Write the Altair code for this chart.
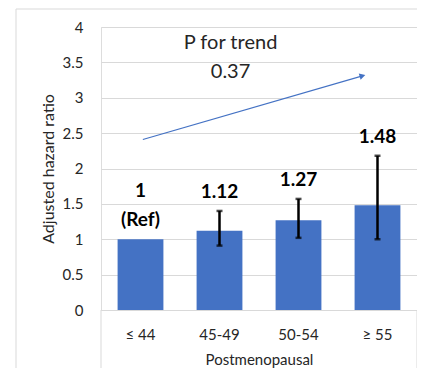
import altair as alt
import pandas as pd

categories = ["≤ 44", "45-49", "50-54", "≥ 55"]
hazard_ratio = [1.0, 1.12, 1.27, 1.48]
ci_lower = [None, 0.91, 1.02, 1.00]
ci_upper = [None, 1.40, 1.57, 2.18]
value_labels = ["1", "1.12", "1.27", "1.48"]
ref_labels = ["(Ref)", "", "", ""]

trend_x = [0.53, 3.31]
trend_y = [2.41, 3.31]
annot_text = ["P for trend", "0.37"]
annot_x = [1.64, 1.64]
annot_y = [3.77, 3.36]

y_ticks = [0, 0.5, 1, 1.5, 2, 2.5, 3, 3.5, 4]

FONT = "Lato"
BLUE = "#4472C4"
GRID = "#d9d9d9"
TXT = "#262626"

df = pd.DataFrame({
    "cat": categories,
    "hr": hazard_ratio,
    "lo": ci_lower,
    "hi": ci_upper,
    "label": value_labels,
    "ref": ref_labels,
})

W, H = 316, 283
LINE_UNITS = 0.41  # height of one label line in axis units

yscale = alt.Scale(domain=[0, 4], nice=False)
xscale = alt.Scale(paddingInner=0.42, paddingOuter=0.21)

x_axis = alt.Axis(title="Postmenopausal", labelAngle=0, ticks=False, domain=True,
                  domainColor=GRID, labelFont=FONT, labelFontSize=15, labelColor=TXT,
                  labelPadding=17, titleFont=FONT, titleFontSize=15, titleFontWeight="normal",
                  titleColor=TXT, titlePadding=10)
y_axis = alt.Axis(values=y_ticks, format="~g", title="Adjusted hazard ratio", ticks=False,
                  domain=False, grid=True, gridColor=GRID, labelFont=FONT, labelFontSize=15,
                  labelColor=TXT, labelPadding=18, titleFont=FONT, titleFontSize=16,
                  titleFontWeight="normal", titleColor=TXT, titlePadding=6)


def xc():
    return alt.X("cat:N", sort=categories, scale=xscale, axis=x_axis)


def yq(field):
    return alt.Y(field, scale=yscale, axis=y_axis)


bars = alt.Chart(df).mark_bar(color=BLUE).encode(x=xc(), y=yq("hr:Q"))

err = alt.Chart(df).mark_errorbar(ticks=alt.TickConfig(size=6, thickness=2.5, color="black"),
                                  rule=alt.LineConfig(strokeWidth=2.5, color="black")).encode(
    x=xc(), y=yq("lo:Q"), y2="hi:Q",
)

base_txt = alt.Chart(df).transform_calculate(
    top="isValid(datum.hi) ? max(datum.hr, datum.hi) : datum.hr",
    anchor="datum.ref != '' ? datum.top + %f : datum.top" % LINE_UNITS,
)

labels = base_txt.mark_text(font=FONT, fontSize=19, fontWeight="bold", color="black",
                            baseline="bottom", dy=-9).encode(
    x=xc(), y=yq("anchor:Q"), text="label:N",
)
ref = base_txt.mark_text(font=FONT, fontSize=19, fontWeight="bold", color="black",
                         baseline="bottom", dy=-9).encode(
    x=xc(), y=yq("top:Q"), text="ref:N",
)

qx = alt.Scale(domain=[0, 4], nice=False, zero=False)

trend_df = pd.DataFrame({"x": trend_x, "y": trend_y})
trend_line = alt.Chart(trend_df).mark_line(color=BLUE, strokeWidth=1.2).encode(
    x=alt.X("x:Q", scale=qx, axis=None),
    y=yq("y:Q"),
)
arrow_df = pd.DataFrame({"x": [trend_x[1]], "y": [trend_y[1]]})
arrow_head = alt.Chart(arrow_df).mark_point(shape="triangle-right", filled=True, size=45,
                                            color=BLUE, opacity=1, angle=344).encode(
    x=alt.X("x:Q", scale=qx, axis=None),
    y=yq("y:Q"),
)

annot_df = pd.DataFrame({"x": annot_x, "y": annot_y, "t": annot_text})
annot = alt.Chart(annot_df).mark_text(font=FONT, fontSize=20, color=TXT).encode(
    x=alt.X("x:Q", scale=qx, axis=None),
    y=yq("y:Q"),
    text="t:N",
)

# decorative frame lines (category box and chart border)
one = pd.DataFrame({"k": [0]})
box_l = alt.Chart(one).mark_rule(color=GRID, strokeWidth=1).encode(
    x=alt.value(0), y=alt.value(H), y2=alt.value(H + 90))
box_r = alt.Chart(one).mark_rule(color=GRID, strokeWidth=1).encode(
    x=alt.value(W), y=alt.value(H), y2=alt.value(H + 90))
border_l = alt.Chart(one).mark_rule(color=GRID, strokeWidth=1).encode(
    x=alt.value({"expr": "-85"}), y=alt.value({"expr": "-18"}), y2=alt.value(H + 90))
border_t = alt.Chart(one).mark_rule(color=GRID, strokeWidth=1).encode(
    x=alt.value({"expr": "-85"}), x2=alt.value(W + 20), y=alt.value({"expr": "-18"}))

cat_layer = alt.layer(bars, err, labels, ref)
num_layer = alt.layer(trend_line, arrow_head, annot)
deco = alt.layer(box_l, box_r, border_l, border_t)

chart = alt.layer(cat_layer, num_layer, deco).resolve_scale(x="independent").properties(
    width=W, height=H,
    autosize=alt.AutoSizeParams(type="none"),
    padding={"left": 93, "top": 19, "right": 0, "bottom": 58},
).configure_view(stroke=None).configure(background="white")

chart.save("out.html", embed_options={"renderer": "svg", "actions": False})
